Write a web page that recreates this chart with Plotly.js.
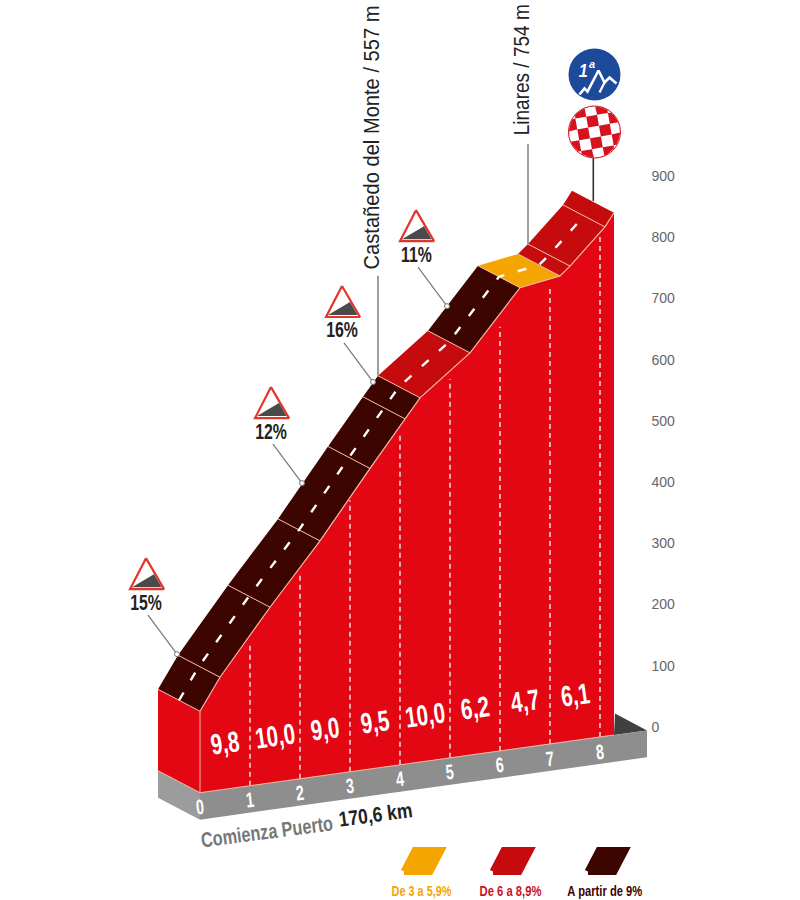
<!DOCTYPE html>
<html>
<head>
<meta charset="utf-8">
<script src="https://cdn.plot.ly/plotly-3.0.1.min.js"></script>
<style>html,body{margin:0;padding:0;background:#fff}#c{width:800px;height:900px}</style>
</head>
<body>
<div id="c"></div>
<script>
// ---- data ----
const routeKm  = [0, 0.4, 1.4, 2.4, 3.4, 4.1, 4.4, 5.4, 6.4, 7.2, 7.4, 8.1, 8.28];
const routeAlt = [133, 184, 287, 384, 491, 564, 595, 657, 752, 762, 776, 832, 853];
const segClass = [2, 2, 2, 2, 2, 2, 1, 2, 0, 1, 1, 1];
const kmTicks  = [1, 2, 3, 4, 5, 6, 7, 8];
const kmTopAlt = [236, 344, 449, 550, 625, 699, 754, 825];
const kmLabels = ['0', '1', '2', '3', '4', '5', '6', '7', '8'];
const gradKm   = [0.5, 1.5, 2.5, 3.5, 4.5, 5.5, 6.5, 7.5];
const gradText = ['9,8', '10,0', '9,0', '9,5', '10,0', '6,2', '4,7', '6,1'];
const signText = ['15%', '12%', '16%', '11%'];
const signKm   = [0.38, 2.88, 4.30, 5.78];
const signAlt  = [186, 437, 586, 693];
const placeText = ['Castañedo del Monte / 557 m', 'Linares / 754 m'];
const placeKm   = [4.4, 7.4];
const placeAlt  = [595, 776];
const legendText = ['De 3 a 5,9%', 'De 6 a 8,9%', 'A partir de 9%'];
const classColor = ['#f5a500', '#c60b0f', '#3c0500'];
const legendTextColor = ['#f5a500', '#c8141c', '#3c0500'];
const altTicks = [0, 100, 200, 300, 400, 500, 600, 700, 800, 900];
const startLabel = 'Comienza Puerto';
const startKmText = '170,6 km';

// ---- projection of the oblique drawing onto the two axes ----
const PX_KM = 50, PX_M = 0.6122;
const SKEW0 = -107.3, SKEW_KM = 11.38;
const BACK_KM = -42 / PX_KM, BACK_M = 22 / PX_M;
const SANS = '"Liberation Sans",Arial,sans-serif';
const RED = '#e30613', PALE = '#f2b7a2';
const pt = (km, alt, back) => back
  ? [km + BACK_KM, alt + SKEW0 + SKEW_KM * km + BACK_M]
  : [km, alt + SKEW0 + SKEW_KM * km];
const dX = p => p / PX_KM, dY = p => -p / PX_M;
const off = (p, px, py) => [p[0] + dX(px), p[1] + dY(py)];
const pageX = p => p / PX_KM - 4, pageY = p => (727 - p) / PX_M;

const traces = [];
function poly(points, color, lineColor, lineWidth) {
  traces.push({
    x: points.map(p => p ? p[0] : null), y: points.map(p => p ? p[1] : null),
    mode: 'lines', fill: 'toself', fillcolor: color,
    line: {color: lineColor || color, width: lineWidth === undefined ? 0 : lineWidth},
    hoverinfo: 'skip', showlegend: false
  });
}
function path(points, color, width, dash) {
  traces.push({
    x: points.map(p => p ? p[0] : null), y: points.map(p => p ? p[1] : null),
    mode: 'lines', line: {color: color, width: width, dash: dash || 'solid'},
    hoverinfo: 'skip', showlegend: false
  });
}

const last = routeKm.length - 1;
const GROUND = -44;
const farKm = 8.94;

// ground slab
poly([pt(8.28, 0), pt(farKm, 0), pt(8.3, 35)], '#404040');
poly([pt(0, 0), pt(farKm, 0), pt(farKm, GROUND), pt(0, GROUND)], '#8e8e8e');
poly([pt(0, 0, true), pt(0, 0), pt(0, GROUND), pt(0, GROUND, true)], '#9c9c9c');

// left end face and front face
poly([pt(0, 0, true), pt(0, 0), pt(0, routeAlt[0]), pt(0, routeAlt[0], true)], RED);
const face = [pt(0, 0)];
routeKm.forEach((k, i) => face.push(pt(k, routeAlt[i])));
face.push(pt(routeKm[last], 0));
poly(face, RED);

// kilometre dashes on the face
kmTicks.forEach((k, i) => path([pt(k, 0), pt(k, kmTopAlt[i] - 6)], '#ffffff', 1.3, '5px,4px'));

// road segments
segClass.forEach((c, i) => {
  const a = [routeKm[i], routeAlt[i]], b = [routeKm[i + 1], routeAlt[i + 1]];
  poly([pt(a[0], a[1]), pt(b[0], b[1]), pt(b[0], b[1], true), pt(a[0], a[1], true)], classColor[c]);
});
// cross lines
const cross = [];
for (let i = 0; i < last; i++) {
  cross.push(pt(routeKm[i], routeAlt[i]), pt(routeKm[i], routeAlt[i], true), null);
}
path(cross, PALE, 1);
// pale edges
path(routeKm.map((k, i) => pt(k, routeAlt[i])), PALE, 1.2);
path([pt(0, 0, true), pt(0, 0), pt(routeKm[last], 0)], PALE, 1);
path([pt(0, 0), pt(0, routeAlt[0])], PALE, 1);
// road centre dashes
path(routeKm.slice(0, last).map((k, i) => off(pt(k, routeAlt[i]), -21, -11)), '#ffffff', 2.4, '9px,14px');

// place leaders
placeKm.forEach((k, i) => {
  const a = pt(k, placeAlt[i], true);
  path([off(a, 0, -100), a], '#777777', 1.4);
});

// gradient signs
signText.forEach((t, i) => {
  const a = pt(signKm[i], signAlt[i], true);
  path([off(a, -29, -39), a], '#777777', 1.2);
  poly([off(a, -31, -96), off(a, -47, -65), off(a, -13, -65), off(a, -31, -96)], '#ffffff', '#e2352b', 2.2);
  poly([off(a, -45, -67), off(a, -23, -80), off(a, -15.5, -67)], '#4a4a4a');
  traces.push({x: [a[0]], y: [a[1]], mode: 'markers',
    marker: {size: 5, color: '#ffffff', line: {color: '#777777', width: 1}},
    hoverinfo: 'skip', showlegend: false});
});

// summit pole and badges
const cx = pageX(594.5), cyTop = pageY(74.5), cyBot = pageY(132);
path([[pageX(593.3), pageY(158)], [pageX(593.3), pageY(201)]], '#333333', 1.6);
traces.push({x: [cx], y: [cyTop], mode: 'markers',
  marker: {size: 52, color: '#1d4a9b'}, hoverinfo: 'skip', showlegend: false});
const mtn = [[-15, 20], [-10, 14], [-7, 17], [4, -4], [10, 8], [15, 3], [22, 9]];
path(mtn.map(m => [cx + dX(m[0]), cyTop + dY(m[1])]), '#ffffff', 2.6);
path([[10, 8], [5, 18]].map(m => [cx + dX(m[0]), cyTop + dY(m[1])]), '#ffffff', 2.2);
traces.push({x: [cx], y: [cyBot], mode: 'markers',
  marker: {size: 52, color: '#ffffff', line: {color: '#d5121e', width: 1}}, hoverinfo: 'skip', showlegend: false});
const CELL = 11, THETA = -10 * Math.PI / 180, R = 25.5;
const cells = [];
for (let i = -3; i <= 3; i++) for (let j = -3; j <= 3; j++) {
  if ((i + j) % 2 === 0) continue;
  const ring = [];
  const corners = [[i, j], [i + 1, j], [i + 1, j + 1], [i, j + 1], [i, j]];
  for (let c = 0; c < 4; c++) for (let s = 0; s < 6; s++) {
    const u = (corners[c][0] + (corners[c + 1][0] - corners[c][0]) * s / 6 - 0.5) * CELL;
    const v = (corners[c][1] + (corners[c + 1][1] - corners[c][1]) * s / 6 - 0.5) * CELL;
    let X = u * Math.cos(THETA) - v * Math.sin(THETA);
    let Y = u * Math.sin(THETA) + v * Math.cos(THETA);
    const d = Math.hypot(X, Y);
    if (d > R) { X *= R / d; Y *= R / d; }
    ring.push([cx + dX(X), cyBot + dY(Y)]);
  }
  ring.push(ring[0]);
  cells.push(...ring, null);
}
poly(cells, '#d5121e');

// legend swatches
const legendLeft = [400, 489, 584];
classColor.forEach((c, i) => {
  const L = legendLeft[i];
  const sw = [[L + 4, 871.5], [L + 30, 871.5], [L + 41, 850.5], [L + 15, 850.5], [L + 4, 871.5]];
  poly(sw.map(p => [pageX(p[0]), pageY(p[1])]), c, c, 7);
});

// ---- text ----
const ann = [];
const fits = [];   // horizontal condensing of each text: {f: factor} or {w: target length}
const note = (x, y, text, font, extra, fit) => {
  ann.push(Object.assign({x: x, y: y, text: text, showarrow: false, font: font, xref: 'x', yref: 'y'}, extra || {}));
  fits.push(fit || null);
};
kmLabels.forEach((t, i) => {
  const p = pt(i, GROUND / 2 - 1);
  note(p[0], p[1], t, {family: SANS, size: 21, color: '#ffffff', weight: 700}, {textangle: -6}, {f: 0.68});
});
gradText.forEach((t, i) => {
  const p = pt(gradKm[i], 75);
  note(p[0], p[1], t, {family: SANS, size: 29, color: '#ffffff', weight: 700}, {textangle: -8}, {f: 0.71});
});
signText.forEach((t, i) => {
  const a = off(pt(signKm[i], signAlt[i], true), -31, -52);
  note(a[0], a[1], t, {family: SANS, size: 22, color: '#222222', weight: 700}, {}, {f: 0.72});
});
const placeLen = [264, 131], placeUp = [-238, -174.5];
placeText.forEach((t, i) => {
  const a = off(pt(placeKm[i], placeAlt[i], true), -6, placeUp[i]);
  note(a[0], a[1], t, {family: SANS, size: 22, color: '#222222'}, {textangle: -90}, {w: placeLen[i]});
});
note(pageX(266.5), pageY(831), startLabel, {family: SANS, size: 21, weight: 700, color: '#777777'}, {textangle: -7.5}, {w: 133});
note(pageX(375), pageY(814), startKmText, {family: SANS, size: 21, weight: 700, color: '#222222'}, {textangle: -7.5}, {w: 74});
const legendCenter = [422, 511, 605], legendLen = [60, 62, 75];
legendText.forEach((t, i) => note(pageX(legendCenter[i]), pageY(891), t,
  {family: SANS, size: 14, color: legendTextColor[i], weight: 700}, {}, {w: legendLen[i]}));
note(cx + dX(-11), cyTop + dY(-4), '1', {family: SANS, size: 19, color: '#ffffff', style: 'italic', weight: 700}, {}, {f: 0.85});
note(cx + dX(-3), cyTop + dY(-11), 'a', {family: SANS, size: 11, color: '#ffffff', style: 'italic', weight: 700});

const layout = {
  width: 800, height: 900,
  margin: {l: 0, r: 0, t: 0, b: 0, pad: 0},
  paper_bgcolor: '#ffffff', plot_bgcolor: '#ffffff',
  showlegend: false,
  xaxis: {range: [-4, 12], visible: false, fixedrange: true},
  yaxis: {
    range: [(727 - 900) / PX_M, 727 / PX_M],
    side: 'right', anchor: 'free', position: 0.813,
    tickmode: 'array', tickvals: altTicks, ticktext: altTicks.map(String),
    showgrid: false, zeroline: false, showline: false, ticks: '',
    tickfont: {family: SANS, size: 14, color: '#666666'}, fixedrange: true
  },
  annotations: ann
};
Plotly.newPlot('c', traces, layout, {displayModeBar: false, staticPlot: true}).then(gd => {
  gd.querySelectorAll('.annotation').forEach(g => {
    const fit = fits[+g.getAttribute('data-index')];
    if (!fit) return;
    const t = g.querySelector('text');
    const n = t.getComputedTextLength();
    const sx = fit.w ? fit.w / n : fit.f;
    const x0 = parseFloat(t.getAttribute('x')) || 0;
    const prior = t.getAttribute('transform') || '';
    t.setAttribute('transform', prior + ' translate(' + x0 + ' 0) scale(' + sx + ' 1) translate(' + (-x0) + ' 0)');
    const bg = g.querySelector('rect.bg');
    if (bg) bg.remove();
  });
});
</script>
</body>
</html>
